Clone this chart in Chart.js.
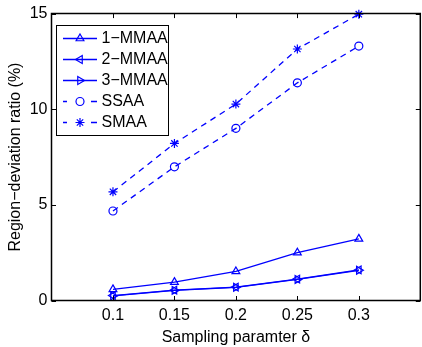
<!DOCTYPE html>
<html>
<head>
<meta charset="utf-8">
<script src="https://cdn.jsdelivr.net/npm/chart.js@4.4.1/dist/chart.umd.min.js"></script>
<style>
  html, body { margin: 0; padding: 0; background: #fff; overflow: hidden; }
  #wrap { width: 422px; height: 347px; overflow: hidden; position: relative; }
  canvas { display: block; }
</style>
</head>
<body>
<div id="wrap"><canvas id="c" width="426" height="347"></canvas></div>
<script>
// Sampling parameter values (x axis)
const sampling = [0.1, 0.15, 0.2, 0.25, 0.3];
const xTickValues = [0.1, 0.15, 0.2, 0.25, 0.3];
const yTickValues = [0, 5, 10, 15];

// Region-deviation ratio (%) for each method
const mmaa1 = [0.58, 0.96, 1.52, 2.50, 3.22];
const mmaa2 = [0.26, 0.54, 0.70, 1.12, 1.60];
const mmaa3 = [0.24, 0.53, 0.69, 1.10, 1.58];
const ssaa  = [4.68, 6.99, 9.00, 11.38, 13.30];
const smaa  = [5.68, 8.21, 10.27, 13.15, 14.97];

const seriesNames = ['1\u2212MMAA', '2\u2212MMAA', '3\u2212MMAA', 'SSAA', 'SMAA'];

const BLUE = '#0000ff';
const FONT = "'Liberation Sans', Arial, Helvetica, sans-serif";

function pts(vals) { return sampling.map((x, i) => ({ x: x, y: vals[i] })); }

function series(label, vals, style, rotation, dashed, radius) {
  return {
    label: label,
    data: pts(vals),
    borderColor: BLUE,
    borderWidth: 1.3,
    borderDash: dashed ? [6, 5] : [],
    pointStyle: style,
    rotation: rotation,
    pointRotation: rotation,
    pointRadius: radius,
    pointHoverRadius: radius,
    pointBorderWidth: 1.2,
    pointBorderColor: BLUE,
    pointBackgroundColor: 'rgba(0,0,0,0)',
    fill: false,
    tension: 0,
    clip: false
  };
}

// Box frame with inward tick marks
const framePlugin = {
  id: 'frame',
  afterDatasetsDraw(chart) {
    const ctx = chart.ctx;
    const a = chart.chartArea;
    const xs = chart.scales.x, ys = chart.scales.y;
    const tl = 4.5;
    ctx.save();
    ctx.strokeStyle = '#000';
    ctx.lineWidth = 1.5;
    ctx.beginPath();
    ctx.rect(a.left, a.top, a.right - a.left, a.bottom - a.top);
    ctx.stroke();
    ctx.lineWidth = 1;
    ctx.beginPath();
    xTickValues.forEach(v => {
      const px = Math.round(xs.getPixelForValue(v)) + 0.5;
      ctx.moveTo(px, a.bottom); ctx.lineTo(px, a.bottom - tl);
      ctx.moveTo(px, a.top); ctx.lineTo(px, a.top + tl);
    });
    yTickValues.forEach(v => {
      const py = Math.round(ys.getPixelForValue(v)) + 0.5;
      ctx.moveTo(a.left, py); ctx.lineTo(a.left + tl, py);
      ctx.moveTo(a.right, py); ctx.lineTo(a.right - tl, py);
    });
    ctx.stroke();
    ctx.restore();
  }
};

// Boxed legend in the upper-left corner of the plot
const legendPlugin = {
  id: 'boxLegend',
  afterDraw(chart) {
    const ctx = chart.ctx;
    const bx = 56.5, by = 25.5, bw = 112, bh = 110;
    const rowY0 = 38.5, rowStep = 21;
    const lx0 = 63, lx1 = 97, mx = 80, tx = 101.5;
    ctx.save();
    ctx.fillStyle = '#fff';
    ctx.fillRect(bx, by, bw, bh);
    ctx.strokeStyle = '#000';
    ctx.lineWidth = 1;
    ctx.strokeRect(bx, by, bw, bh);
    chart.data.datasets.forEach((ds, i) => {
      const y = rowY0 + i * rowStep;
      ctx.strokeStyle = ds.borderColor;
      ctx.lineWidth = ds.borderWidth;
      ctx.beginPath();
      if (ds.borderDash.length) {
        ctx.moveTo(lx0, y); ctx.lineTo(lx0 + 4, y);
        ctx.moveTo(lx1 - 6, y); ctx.lineTo(lx1, y);
      } else {
        ctx.moveTo(lx0, y); ctx.lineTo(lx1, y);
      }
      ctx.stroke();
      ctx.fillStyle = ds.pointBackgroundColor;
      ctx.strokeStyle = ds.pointBorderColor;
      ctx.lineWidth = ds.pointBorderWidth;
      Chart.helpers.drawPoint(ctx, {
        pointStyle: ds.pointStyle,
        rotation: ds.pointRotation,
        radius: ds.pointRadius,
        borderWidth: ds.pointBorderWidth
      }, mx, y);
      ctx.fillStyle = '#000';
      ctx.font = '16px ' + FONT;
      ctx.textBaseline = 'middle';
      ctx.textAlign = 'left';
      ctx.fillText(ds.label, tx, y + 0.5);
    });
    ctx.restore();
  }
};

new Chart(document.getElementById('c'), {
  type: 'line',
  data: {
    datasets: [
      series(seriesNames[0], mmaa1, 'triangle', 0, false, 4.5),
      series(seriesNames[1], mmaa2, 'triangle', -90, false, 4.5),
      series(seriesNames[2], mmaa3, 'triangle', 90, false, 4.5),
      series(seriesNames[3], ssaa, 'circle', 0, true, 4),
      series(seriesNames[4], smaa, 'star', 0, true, 4.5)
    ]
  },
  options: {
    responsive: false,
    animation: false,
    events: [],
    layout: { padding: { left: 0, right: 2, top: 7.5, bottom: 0 } },
    plugins: { legend: { display: false }, tooltip: { enabled: false } },
    scales: {
      x: {
        type: 'linear',
        min: 0.05,
        max: 0.35,
        grid: { display: false, drawTicks: false },
        border: { display: false },
        afterBuildTicks(scale) { scale.ticks = xTickValues.map(v => ({ value: v })); },
        afterFit(scale) { scale.height = 46.5; },
        ticks: {
          color: '#000',
          padding: 5,
          maxRotation: 0,
          autoSkip: false,
          font: { family: FONT, size: 16 },
          callback: v => String(Math.round(v * 100) / 100)
        },
        title: {
          display: true,
          text: 'Sampling paramter \u03b4',
          color: '#000',
          font: { family: FONT, size: 16 },
          padding: { top: 7, bottom: 0 }
        }
      },
      y: {
        type: 'linear',
        min: 0,
        max: 15,
        grid: { display: false, drawTicks: false },
        border: { display: false },
        afterBuildTicks(scale) { scale.ticks = yTickValues.map(v => ({ value: v })); },
        afterFit(scale) { scale.width = 51.5; },
        ticks: {
          color: '#000',
          padding: 4,
          font: { family: FONT, size: 16 }
        },
        title: {
          display: true,
          text: 'Region\u2212deviation ratio (%)',
          color: '#000',
          font: { family: FONT, size: 16 },
          padding: { top: 6, bottom: 0 }
        }
      }
    }
  },
  plugins: [framePlugin, legendPlugin]
});
</script>
</body>
</html>
